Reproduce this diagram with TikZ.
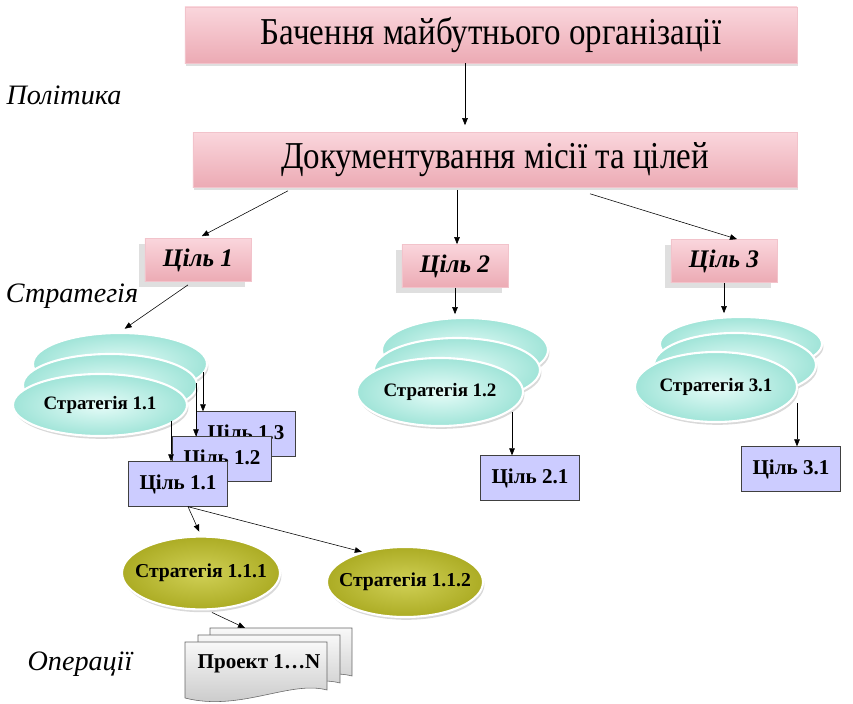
\documentclass[tikz,border=0pt]{standalone}
\usepackage{fontspec}
\setmainfont{Liberation Serif}
\newfontfamily\narrowfont[FakeStretch=0.87]{Liberation Serif}
\usetikzlibrary{positioning,shapes.geometric,shadows,arrows.meta,calc}

\definecolor{pinkL}{RGB}{250,214,220}
\definecolor{pinkD}{RGB}{236,170,180}
\definecolor{cyanL}{RGB}{230,252,248}
\definecolor{cyanD}{RGB}{160,228,216}
\definecolor{lilac}{RGB}{204,204,255}
\definecolor{oliveL}{RGB}{208,208,86}
\definecolor{oliveD}{RGB}{172,172,36}
\definecolor{greyL}{RGB}{248,248,248}
\definecolor{greyD}{RGB}{196,196,196}

\tikzset{
  bigbox/.style={rectangle, top color=pinkL, bottom color=pinkD, draw=pinkD!70!white,
    drop shadow={opacity=0.25, shadow xshift=1pt, shadow yshift=-2pt}},
  goalbox/.style={rectangle, top color=pinkL, bottom color=pinkD, draw=pinkD!70!white,
    minimum width=2.65cm, minimum height=1.08cm,
    drop shadow={opacity=0.25, shadow xshift=-4pt, shadow yshift=-4pt},
    font=\fontsize{18}{20}\selectfont\bfseries\itshape},
  stratell/.style={ellipse, inner sep=0pt, draw=white, line width=1.5pt,
    inner color=cyanL, outer color=cyanD,
    drop shadow={opacity=0.3, shadow xshift=1pt, shadow yshift=-2pt}},
  oliveell/.style={ellipse, inner sep=0pt, draw=white, line width=1.5pt,
    inner color=oliveL, outer color=oliveD,
    drop shadow={opacity=0.3, shadow xshift=1pt, shadow yshift=-2pt}},
  subbox/.style={rectangle, fill=lilac, draw=black!75, minimum width=2.475cm,
    minimum height=1.12cm, font=\fontsize{15}{17}\selectfont\bfseries},
  levellabel/.style={font=\fontsize{20}{22}\selectfont\itshape},
  doc/.style={top color=greyL, bottom color=greyD, draw=black!60}
}

\begin{document}
\begin{tikzpicture}[x=0.025cm,y=-0.025cm,>={Triangle[length=5pt,width=4pt]}]
\useasboundingbox (0,0) rectangle (853,703);
% рівні
\node[levellabel] (pol) at (64,95) {Політика};
\node[levellabel] (str) at (72,296) {Стратегія};
\node[levellabel] (op) at (80,664) {Операції};
% верх
\node[bigbox, minimum width=15.3cm, minimum height=1.4cm] (V) at (491,35)
  {\narrowfont\fontsize{27}{29}\selectfont Бачення майбутнього організації};
\node[bigbox, minimum width=15.1cm, minimum height=1.375cm] (M) at (495,160)
  {\narrowfont\fontsize{27}{29}\selectfont Документування місії та цілей};
% цілі
\node[goalbox] (G1) at (198,260) {Ціль 1};
\node[goalbox] (G2) at (455,266) {Ціль 2};
\node[goalbox] (G3) at (724,261) {Ціль 3};
% стратегії
\node[stratell, minimum width=4.35cm, minimum height=1.55cm] (S1c) at (120,364) {};
\node[stratell, minimum width=4.35cm, minimum height=1.55cm] (S1b) at (110,385) {};
\node[stratell, minimum width=4.35cm, minimum height=1.55cm,
  label={center:\fontsize{13.5}{15}\selectfont\bfseries Стратегія 1.1}] (S1) at (100,405) {};
\node[stratell, minimum width=4.15cm, minimum height=1.6cm] (S2c) at (465,350) {};
\node[stratell, minimum width=4.15cm, minimum height=1.6cm] (S2b) at (457,370) {};
\node[stratell, minimum width=4.15cm, minimum height=1.7cm,
  label={center:\fontsize{13.5}{15}\selectfont\bfseries Стратегія 1.2}] (S2) at (440,392) {};
\node[stratell, minimum width=4.05cm, minimum height=1.35cm] (S3c) at (741,344) {};
\node[stratell, minimum width=4.05cm, minimum height=1.6cm] (S3b) at (735,365) {};
\node[stratell, minimum width=4.05cm, minimum height=1.75cm,
  label={center:\fontsize{13.5}{15}\selectfont\bfseries Стратегія 3.1}] (S3) at (716,387) {};
% підцілі
\node[subbox] (G13) at (246,434) {Ціль 1.3};
\node[subbox] (G12) at (222,459) {Ціль 1.2};
\node[subbox] (G11) at (178,484) {Ціль 1.1};
\node[subbox] (G21) at (530,478) {Ціль 2.1};
\node[subbox] (G31) at (791,469) {Ціль 3.1};
% стратегії 1.1.x
\node[oliveell, minimum width=3.95cm, minimum height=1.82cm,
  label={center:\fontsize{14}{16}\selectfont\bfseries Стратегія 1.1.1}] (S111) at (201,573) {};
\node[oliveell, minimum width=3.9cm, minimum height=1.75cm,
  label={center:\fontsize{14}{16}\selectfont\bfseries Стратегія 1.1.2}] (S112) at (405,582) {};
% проекти
\foreach \dx/\dy in {25/-14, 13/-7, 0/0}
  \draw[doc] (185+\dx,642+\dy) -- (327+\dx,642+\dy) -- (327+\dx,690+\dy)
    .. controls (290+\dx,680+\dy) and (240+\dx,712+\dy) .. (185+\dx,698+\dy) -- cycle;
\node[font=\fontsize{15}{17}\selectfont\bfseries] (P) at (259,664) {Проект 1…N};
\coordinate (Pc) at (245,628);
% стрілки
\coordinate (a0) at ($(V.south)+(-26,0)$);
\draw[->, shorten >=5pt] (a0) -- (a0 |- M.north);
\coordinate (a1) at ($(M.south)+(-207,3)$);
\draw[->, shorten >=3pt] (a1) -- (G1.north);
\coordinate (a2) at ($(M.south)+(-38,2)$);
\draw[->] (a2) -- (a2 |- G2.north);
\coordinate (a3) at ($(M.south)+(95,6)$);
\coordinate (b3) at ($(G3.north)+(13,0)$);
\draw[->] (a3) -- (b3);
\coordinate (c1) at ($(G1.south)+(-10,3)$);
\draw[->, shorten >=4pt] (c1) -- (S1c.north);
\draw[->, shorten >=2pt] (G2.south) -- (G2.south |- S2c.north);
\draw[->, shorten >=2pt] (G3.south) -- (G3.south |- S3c.north);
\coordinate (d13) at ($(S1c.center)+(83,8)$);
\draw[->] (d13) -- (d13 |- G13.north);
\coordinate (d12) at ($(S1b.center)+(86,-2)$);
\draw[->] (d12) -- (d12 |- G12.north);
\coordinate (d11) at ($(S1.center)+(71,16)$);
\draw[->] (d11) -- (d11 |- G11.north);
\coordinate (d21) at ($(S2.center)+(72,20)$);
\draw[->] (d21) -- (d21 |- G21.north);
\coordinate (d31) at ($(S3.center)+(81,16)$);
\draw[->] (d31) -- (d31 |- G31.north);
\coordinate (e1) at ($(G11.south)+(10,0)$);
\draw[->, shorten >=3pt] (e1) -- (S111.north);
\draw[->] (e1) -- (S112.145);
\coordinate (f1) at ($(S111.south)+(11,2)$);
\draw[->] (f1) -- (Pc);
\end{tikzpicture}
\end{document}
